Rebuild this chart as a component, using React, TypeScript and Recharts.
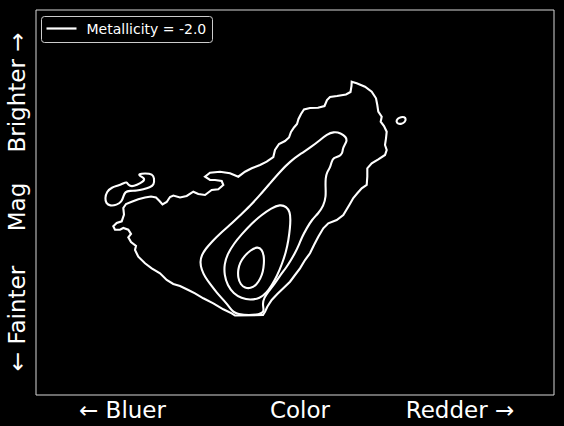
import { ScatterChart, Scatter, XAxis, YAxis, ReferenceArea, Legend } from "recharts"

// contour points as [color, mag] in arbitrary units (mag grows downward = fainter)
const outerLoop = [
  [315.7, 71.7], [320.7, 73.3], [329, 76.7], [335.7, 81.7], [340, 88.3], [341.3, 95], [342.3, 101.7],
  [345.7, 106.7], [344.7, 111.7], [348, 116], [350.7, 121.7], [350, 128.3], [349, 135], [350.7, 140],
  [349, 145], [342.3, 149.3], [335.7, 153.3], [331.3, 158.3], [331.3, 166.7], [330.7, 175], [325.7, 178.3],
  [321.3, 183.3], [317.3, 188], [313.3, 195], [307.3, 205], [300.7, 210], [292.3, 213.3], [287.3, 218.3],
  [282.3, 226.7], [278, 235], [274, 243.3], [269, 250], [264, 258.3], [259, 265], [254, 271.7],
  [247.3, 278.3], [241.3, 284], [235.7, 290], [231.3, 296.7], [229, 301.7], [227, 305], [199, 305.5],
  [195.7, 303.3], [187.3, 299.3], [177.3, 293.3], [167.3, 288.3], [159, 283.3], [152.3, 280], [144, 276],
  [137.3, 274], [130.7, 270], [124, 263.3], [115.7, 258.3], [109, 253.3], [102.3, 246.7], [99, 240],
  [100, 236], [95, 232], [92.3, 227.3], [95, 224], [92.3, 219.7], [87.3, 218], [84, 219.7], [79, 219.7],
  [77.3, 216.3], [80.7, 213], [85.7, 211.3], [88, 204.7], [87.3, 198], [90, 194], [95.7, 191.7],
  [102.3, 189.3], [109, 187.5], [115, 186.5], [120, 187.5], [123.5, 191], [126.5, 194.5], [130.7, 192],
  [134, 187], [137.3, 185.5], [144, 187.5], [150.7, 186], [157.3, 181.7], [162.3, 184], [169, 185],
  [175.7, 180], [182.3, 179.3], [187.3, 175], [185.7, 171], [179, 170], [174, 170], [169, 166.7],
  [174, 162.7], [184, 161.7], [194, 163.3], [202.3, 166.7], [209, 161.7], [215.7, 158.3], [224, 155],
  [230.7, 151.7], [237.3, 147], [239, 140], [243, 134], [249, 131], [253, 127.5], [255, 122],
  [258, 117.5], [261, 114], [262.5, 109], [265, 104], [268, 99.5], [274, 98], [282, 97.8], [288.5, 96],
  [291, 90], [294, 87], [301, 86], [310, 84.5], [314.5, 82], [315.5, 76],
]

const outerBlob = [
  [69, 188.3], [70.7, 181.7], [75.7, 177.3], [82.3, 175.7], [87.3, 173.3], [90.7, 171.7], [92.3, 175],
  [95.7, 176.7], [100.7, 175], [107.3, 171.7], [109, 168.3], [104, 166], [102.3, 164], [109, 163.3],
  [116.7, 164], [118.3, 168.3], [118, 175], [114, 177.3], [107.3, 179.3], [100.7, 180.7], [94, 180.7],
  [89, 181.7], [87.3, 186.7], [85.7, 191.7], [80.7, 195], [74, 196], [70, 193.3],
]

const outerIsland = [
  [360, 111.5], [361.5, 108.5], [365, 107], [368.5, 107], [370, 109], [369, 112], [365.5, 114], [362, 114],
]

const level2 = [
  [297.3, 121.7], [305, 123], [310, 127], [311, 131], [308.5, 135], [306.7, 139], [306.5, 143.3],
  [303, 146.7], [297.5, 147.5], [295.5, 152], [294, 158], [291, 162], [289.5, 168], [289.5, 177],
  [290, 186.5], [287.5, 196], [282.3, 203.3], [275.7, 210], [270.7, 218.3], [266, 227], [262.5, 236],
  [259, 243], [255, 250], [250.7, 257], [244, 265.5], [239, 273.3], [232.5, 281.5], [228, 288],
  [226.5, 294], [228, 300], [226.5, 305], [199, 305], [195, 299], [188, 290.5], [181, 283], [174.5, 274.5],
  [169, 267], [165.5, 259.5], [164, 252], [165.7, 245], [169.5, 239], [176, 231.5], [184, 223.5],
  [194, 215], [204, 205.5], [214, 196], [224, 185], [234, 173.3], [244, 161.7], [254, 151.5],
  [265, 143.5], [275.7, 136.7], [284, 130], [291, 124.5],
]

const level3 = [
  [244, 194.5], [250.5, 196.5], [254, 202], [254.5, 210], [254, 218], [252.5, 230], [250, 242], [246, 254],
  [241, 266], [236, 275], [230.5, 283], [224, 288.3], [214, 290.2], [205.5, 288.3], [197.5, 283.5],
  [191.5, 275.5], [188.3, 265], [188.3, 254], [191.5, 244], [198, 233.5], [205.5, 224.5], [215.5, 213.5],
  [225.5, 205], [235.5, 198],
]

const level4 = [
  [221.5, 236.5], [226, 239.5], [228, 246], [228, 254], [227, 261.5], [224.5, 268.5], [220.5, 275],
  [214.5, 278.5], [209, 278], [204.5, 274.5], [202, 268], [202, 259.5], [204, 252.5], [208.5, 246],
  [214, 240.5],
]

const colorDomain = [0, 518]
const magDomain = [0, 385]
const seriesLabel = "Metallicity = -2.0"

const font = "'DejaVu Sans', sans-serif"

const toPoints = (pts: number[][]) => pts.map(([color, mag]) => ({ color, mag }))

const noMarker = () => <g />

function LegendBox() {
  return (
    <svg width={172} height={27}>
      <rect x={0.5} y={0.5} width={171} height={26} rx={3} fill="#000" stroke="#cccccc" strokeWidth={1} />
      <line x1={5.5} x2={35.5} y1={12.5} y2={12.5} stroke="#fff" strokeWidth={2.2} />
      <text x={45.5} y={17.8} fontSize={14} fill="#fff" fontFamily={font}>
        {seriesLabel}
      </text>
    </svg>
  )
}

export default function App() {
  const line = { stroke: "#fff", strokeWidth: 2.1 }
  return (
    <div style={{ position: "fixed", left: 0, top: 0, width: 564, height: 426, background: "#000" }}>
      <ScatterChart width={564} height={426} margin={{ top: 10, right: 10, bottom: 31, left: 36 }}>
        <XAxis type="number" dataKey="color" domain={colorDomain} hide />
        <YAxis type="number" dataKey="mag" domain={magDomain} reversed hide />
        <ReferenceArea x1={0} x2={518} y1={0} y2={385} fill="none" stroke="#d6d6d6" strokeWidth={1} />
        <Scatter name={seriesLabel} data={toPoints(outerLoop)} line={line} lineJointType="linearClosed" shape={noMarker} isAnimationActive={false} />
        <Scatter data={toPoints(outerBlob)} line={line} lineJointType="basisClosed" shape={noMarker} isAnimationActive={false} legendType="none" />
        <Scatter data={toPoints(outerIsland)} line={line} lineJointType="basisClosed" shape={noMarker} isAnimationActive={false} legendType="none" />
        <Scatter data={toPoints(level2)} line={line} lineJointType="basisClosed" shape={noMarker} isAnimationActive={false} legendType="none" />
        <Scatter data={toPoints(level3)} line={line} lineJointType="basisClosed" shape={noMarker} isAnimationActive={false} legendType="none" />
        <Scatter data={toPoints(level4)} line={line} lineJointType="basisClosed" shape={noMarker} isAnimationActive={false} legendType="none" />
        <Legend
          layout="vertical"
          align="center"
          verticalAlign="middle"
          content={() => <LegendBox />}
          wrapperStyle={{ position: "absolute", left: 41, top: 16, width: 172, height: 27 }}
        />
      </ScatterChart>
      <svg width={564} height={426} style={{ position: "absolute", left: 0, top: 0, pointerEvents: "none" }}>
        <g fontFamily={font} fontSize={23} fill="#fff" textAnchor="middle">
          <text x={122.5} y={417.5}>← Bluer</text>
          <text x={300} y={417.5}>Color</text>
          <text x={460} y={417.5}>Redder →</text>
          <text x={25} y={318.5} transform="rotate(-90 25 318.5)">← Fainter</text>
          <text x={25} y={207} transform="rotate(-90 25 207)">Mag</text>
          <text x={25} y={92.5} transform="rotate(-90 25 92.5)">Brighter →</text>
        </g>
      </svg>
    </div>
  )
}
